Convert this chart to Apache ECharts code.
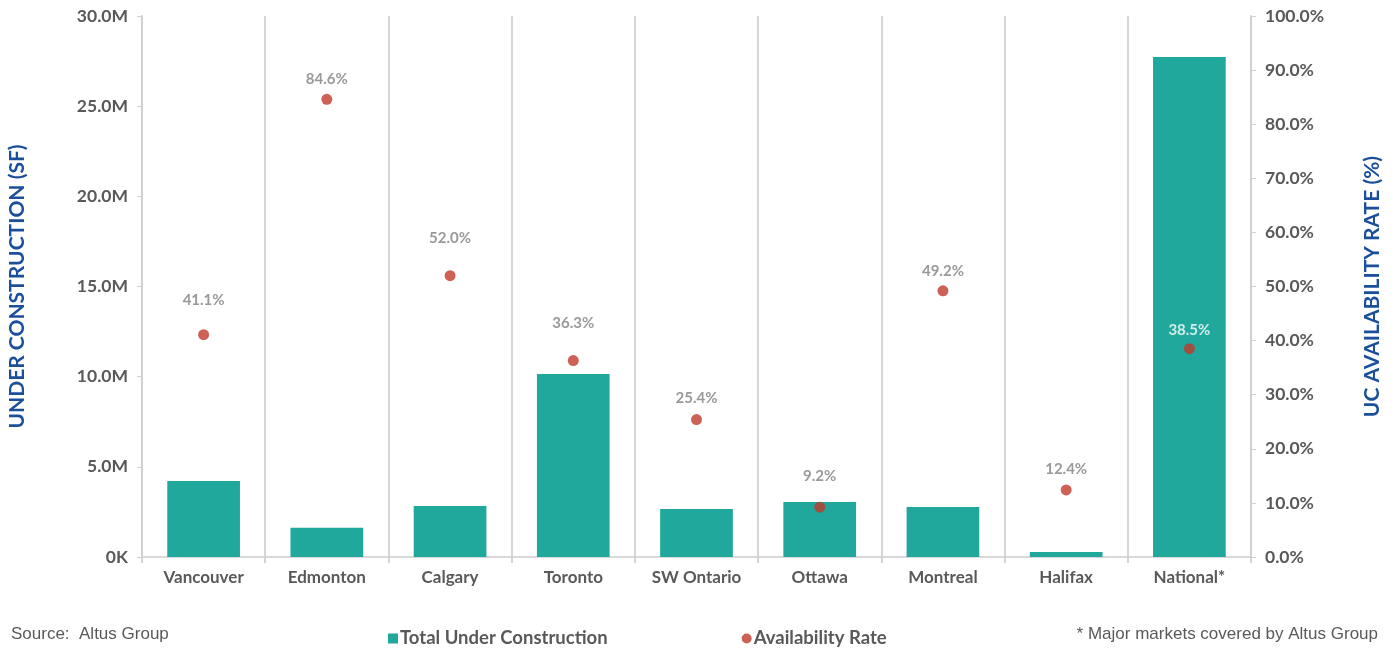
<!DOCTYPE html>
<html><head><meta charset="utf-8">
<script src="https://cdn.jsdelivr.net/npm/echarts@6/dist/echarts.min.js"></script>
<style>html,body{margin:0;padding:0;background:#fff}#c{width:1397px;height:648px}</style>
</head><body><div id="c"></div>
<script>
const categories = ['Vancouver','Edmonton','Calgary','Toronto','SW Ontario','Ottawa','Montreal','Halifax','National*'];
const underConstructionM = [4.21, 1.62, 2.83, 10.15, 2.66, 3.05, 2.77, 0.28, 27.72];
const availabilityRate = [41.1, 84.6, 52.0, 36.3, 25.4, 9.2, 49.2, 12.4, 38.5];
const leftTicks = [0, 5, 10, 15, 20, 25, 30];
const rightTicks = [0, 10, 20, 30, 40, 50, 60, 70, 80, 90, 100];
// label distance above each point (style only)
const labelGap = [21, 7, 25, 24, 8, 18, 7, 8, 6];

const chart = echarts.init(document.getElementById('c'), null, {renderer:'canvas'});
const gray = '#595959';
const blue = '#1b4f9c';
chart.setOption({
  animation:false,
  grid:{left:142,right:146,top:16,bottom:91,containLabel:false,outerBoundsMode:'none'},
  legend:{
    left:383, top:624, itemGap:134, itemWidth:10, itemHeight:10,
    textStyle:{fontFamily:'Lato', fontWeight:'bold', fontSize:18.5, color:gray, padding:[0,0,0,-3]},
    data:[{name:'Total Under Construction', icon:'rect'},{name:'Availability Rate', icon:'circle'}]
  },
  graphic:[
    {type:'text', left:11, top:626, style:{text:'Source:  Altus Group', fontFamily:'Liberation Sans', fontSize:17, fill:'#595959'}},
    {type:'text', right:19, top:626, style:{text:'* Major markets covered by Altus Group', fontFamily:'Liberation Sans', fontSize:17, fill:'#595959'}}
  ],
  xAxis:{
    type:'category', data:categories, boundaryGap:true,
    axisLine:{show:true, lineStyle:{color:'#d9d9d9', width:2}},
    axisTick:{show:true, length:6, lineStyle:{color:'#c8c8c8', width:1.5}},
    splitLine:{show:true, lineStyle:{color:'#c8c8c8', width:1.5}},
    axisLabel:{fontFamily:'Lato', fontWeight:'bold', fontSize:17, color:gray, margin:12}
  },
  yAxis:[
    {type:'value', min:0, max:30, interval:5,
     name:'UNDER CONSTRUCTION (SF)', nameLocation:'middle', nameGap:114, nameRotate:90,
     nameTextStyle:{fontFamily:'Lato', fontWeight:'bold', fontSize:21, color:blue},
     axisLine:{show:true, lineStyle:{color:'#d0d0d0', width:2}},
     axisTick:{show:true, length:5, lineStyle:{color:'#d0d0d0'}},
     splitLine:{show:false},
     axisLabel:{fontFamily:'Lato', fontWeight:'bold', fontSize:17.5, color:gray, margin:14,
       formatter:v=> v===0 ? '0K' : v.toFixed(1)+'M'}
    },
    {type:'value', min:0, max:100, interval:10,
     name:'UC AVAILABILITY RATE (%)', nameLocation:'middle', nameGap:111, nameRotate:90,
     nameTextStyle:{fontFamily:'Lato', fontWeight:'bold', fontSize:21, color:blue},
     axisLine:{show:true, lineStyle:{color:'#d0d0d0', width:2}},
     axisTick:{show:true, length:5, lineStyle:{color:'#d0d0d0'}},
     splitLine:{show:false},
     axisLabel:{fontFamily:'Lato', fontWeight:'bold', fontSize:17.5, color:gray, margin:14,
       formatter:v=> v.toFixed(1)+'%'}
    }
  ],
  series:[
    {name:'Total Under Construction', type:'bar', yAxisIndex:0, data:underConstructionM,
     barWidth:'59%', itemStyle:{color:'#20a89c'}},
    {name:'Availability Rate', type:'scatter', yAxisIndex:1, symbolSize:11,
     itemStyle:{color:'#c0392b'},
     data:availabilityRate.map((v,i)=>({value:v, label:{distance:labelGap[i], color: i===categories.length-1 ? '#ffffff' : '#7f7f7f'}})),
     label:{show:true, position:'top', fontFamily:'Lato', fontWeight:'bold', fontSize:15,
       formatter:p=>p.value.toFixed(1)+'%'}
    }
  ]
});
</script></body></html>
